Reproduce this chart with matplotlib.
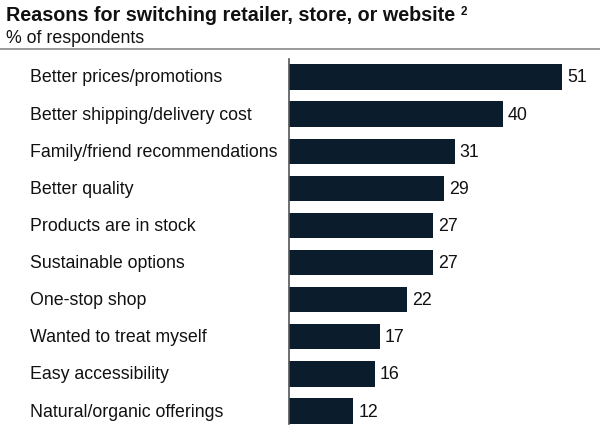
import matplotlib.pyplot as plt
from matplotlib.lines import Line2D

reasons = [
    "Better prices/promotions",
    "Better shipping/delivery cost",
    "Family/friend recommendations",
    "Better quality",
    "Products are in stock",
    "Sustainable options",
    "One-stop shop",
    "Wanted to treat myself",
    "Easy accessibility",
    "Natural/organic offerings",
]
shares = [51, 40, 31, 29, 27, 27, 22, 17, 16, 12]

W, H = 600, 431
fig = plt.figure(figsize=(W / 100, H / 100), dpi=100)
plt.rcParams["font.family"] = ["Liberation Sans", "DejaVu Sans"]

# axes in pixel coordinates: x 289..600, y 60..425 (from top)
left, right, top, bottom = 289, 600, 60, 425
ax = fig.add_axes([left / W, 1 - bottom / H, (right - left) / W, (bottom - top) / H])

bar_color = "#0b1c2c"
ypos = list(range(len(reasons)))
ax.barh(ypos, shares, height=0.68, color=bar_color)
ax.set_xlim(0, (right - left) / 5.35)
ax.set_ylim(9.35, -0.485)

for y, v, name in zip(ypos, shares, reasons):
    ax.annotate(str(v), (v, y), xytext=(5, 0), textcoords="offset pixels",
                va="center", ha="left", fontsize=12.8, color="#111111")
    ax.annotate(name, (0, y), xycoords=("axes fraction", "data"),
                xytext=(30 - left, 0), textcoords="offset pixels",
                va="center", ha="left", fontsize=12.8, color="#111111")

for s in ["top", "right", "bottom"]:
    ax.spines[s].set_visible(False)
ax.spines["left"].set_color("#555555")
ax.spines["left"].set_linewidth(1.2)
ax.set_xticks([])
ax.set_yticks([])

fig.text(6 / W, 1 - 21 / H, "Reasons for switching retailer, store, or website",
         fontsize=14.2, fontweight="bold", va="baseline", ha="left", color="#111111")
fig.text(461 / W, 1 - 15 / H, "2", fontsize=8.5, fontweight="bold",
         va="baseline", ha="left", color="#111111")
fig.text(6 / W, 1 - 43 / H, "% of respondents", fontsize=12.8,
         va="baseline", ha="left", color="#111111")
fig.add_artist(Line2D([0, 1], [1 - 50 / H, 1 - 50 / H], transform=fig.transFigure,
                      color="#888888", linewidth=1.2))

fig.savefig("out.png", dpi=100)
